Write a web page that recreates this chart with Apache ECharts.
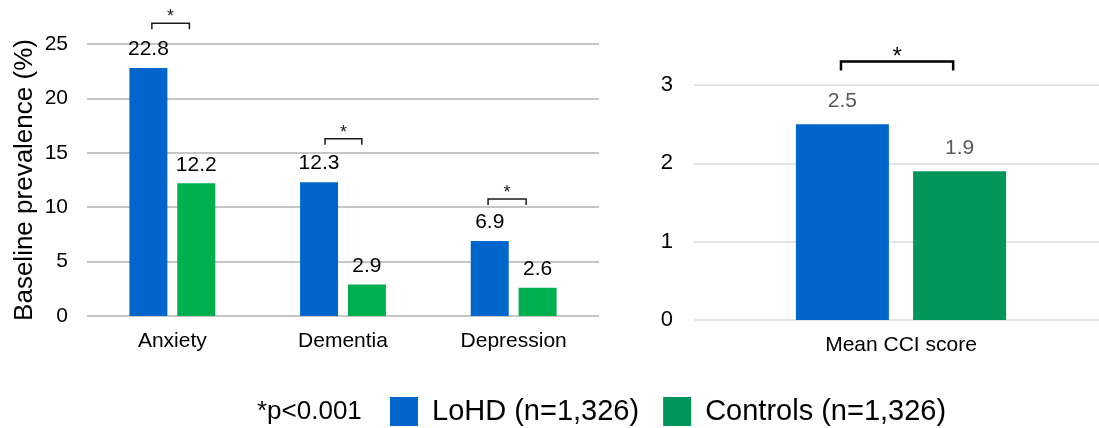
<!DOCTYPE html>
<html>
<head>
<meta charset="utf-8">
<script src="https://cdn.jsdelivr.net/npm/echarts@6/dist/echarts.min.js"></script>
<style>
html,body{margin:0;padding:0;background:#fff;overflow:hidden;width:1099px;height:428px;}
#chart{width:1108px;height:428px;}
</style>
</head>
<body>
<div id="chart"></div>
<script>
// ---- data ----
const categories = ['Anxiety', 'Dementia', 'Depression'];
const lohd = [22.8, 12.3, 6.9];
const controls = [12.2, 2.9, 2.6];
const leftTicks = [0, 5, 10, 15, 20, 25];

const cciCategories = ['Mean CCI score'];
const cciLohd = [2.5];
const cciControls = [1.9];
const rightTicks = [0, 1, 2, 3];

// significance brackets: level (data units) and span (fraction of category band)
const sigLevelLeft = [26.9, 16.3, 10.75];
const sigSpanLeft = [[-0.12, 0.10], [-0.105, 0.11], [-0.15, 0.073]];
const sigLevelRight = [3.3];
const sigSpanRight = [[-0.145, 0.126]];

const seriesNames = ['LoHD (n=1,326)', 'Controls (n=1,326)'];
const noteText = '*p<0.001';

const FONT = '"Liberation Sans", Arial, sans-serif';
const BLUE = '#0066CC';
const GREEN_L = '#00B050';
const GREEN_R = '#00965A';

function bracket(spans, leg, lw, starSize, starDy, color) {
  return function (params, api) {
    const i = api.value(0), v = api.value(1);
    const p = api.coord([i, v]);
    const bw = api.size([1, 0])[0];
    const s = spans[params.dataIndex];
    const x1 = p[0] + s[0] * bw, x2 = p[0] + s[1] * bw;
    return {
      type: 'group',
      children: [
        { type: 'polyline',
          shape: { points: [[x1, p[1] + leg], [x1, p[1]], [x2, p[1]], [x2, p[1] + leg]] },
          style: { stroke: color, lineWidth: lw, fill: null } },
        { type: 'text', x: (x1 + x2) / 2, y: p[1] + starDy,
          style: { text: '*', fontSize: starSize, fontFamily: FONT, fill: color,
                   align: 'center', verticalAlign: 'middle' } }
      ]
    };
  };
}

const chart = echarts.init(document.getElementById('chart'));
const option = {
  animation: false,
  textStyle: { fontFamily: FONT },
  grid: [
    { left: 87, top: 44, width: 512, height: 272 },
    { left: 694, top: 85, width: 414, height: 235 }
  ],
  xAxis: [
    { gridIndex: 0, type: 'category', data: categories,
      axisLine: { show: false }, axisTick: { show: false },
      axisLabel: { fontSize: 21, color: '#000', margin: 15, fontFamily: FONT } },
    { gridIndex: 1, type: 'category', data: cciCategories,
      axisLine: { show: false }, axisTick: { show: false },
      axisLabel: { fontSize: 21, color: '#000', margin: 15, fontFamily: FONT } }
  ],
  yAxis: [
    { gridIndex: 0, type: 'value', min: leftTicks[0], max: leftTicks[leftTicks.length - 1],
      interval: leftTicks[1] - leftTicks[0],
      name: 'Baseline prevalence (%)', nameLocation: 'middle', nameRotate: 90, nameGap: 49,
      nameTextStyle: { fontSize: 26, color: '#000', fontFamily: FONT },
      axisLine: { show: false }, axisTick: { show: false },
      axisLabel: { fontSize: 21, color: '#000', margin: 19, fontFamily: FONT },
      splitLine: { lineStyle: { color: '#C6C6C6', width: 2 } } },
    { gridIndex: 1, type: 'value', min: rightTicks[0], max: rightTicks[rightTicks.length - 1],
      interval: rightTicks[1] - rightTicks[0],
      axisLine: { show: false }, axisTick: { show: false },
      axisLabel: { fontSize: 22, color: '#000', margin: 21, fontFamily: FONT },
      splitLine: { lineStyle: { color: '#E4E4E4', width: 2 } } }
  ],
  legend: {
    data: [
      { name: seriesNames[0], itemStyle: { color: BLUE } },
      { name: seriesNames[1], itemStyle: { color: GREEN_R } }
    ],
    icon: 'rect', left: 385, top: 392, itemWidth: 28, itemHeight: 29, itemGap: 24,
    selectedMode: false,
    textStyle: { fontSize: 29, color: '#000', fontFamily: FONT, padding: [0, 0, 0, 9] }
  },
  graphic: [
    { type: 'text', left: 257, top: 399,
      style: { text: noteText, fontSize: 26, fill: '#000', fontFamily: FONT } }
  ],
  series: [
    { name: seriesNames[0], type: 'bar', xAxisIndex: 0, yAxisIndex: 0, data: lohd,
      barWidth: 38, barGap: '26%', itemStyle: { color: BLUE },
      label: { show: true, position: 'top', distance: 8, fontSize: 21, color: '#000', fontFamily: FONT } },
    { name: seriesNames[1], type: 'bar', xAxisIndex: 0, yAxisIndex: 0, data: controls,
      barWidth: 38, barGap: '26%', itemStyle: { color: GREEN_L },
      label: { show: true, position: 'top', distance: 8, fontSize: 21, color: '#000', fontFamily: FONT } },
    { name: seriesNames[0], type: 'bar', xAxisIndex: 1, yAxisIndex: 1, data: cciLohd,
      barWidth: 93, barGap: '26%', itemStyle: { color: BLUE },
      label: { show: true, position: 'top', distance: 12, fontSize: 21, color: '#595959', fontFamily: FONT } },
    { name: seriesNames[1], type: 'bar', xAxisIndex: 1, yAxisIndex: 1, data: cciControls,
      barWidth: 93, barGap: '26%', itemStyle: { color: GREEN_R },
      label: { show: true, position: 'top', distance: 12, fontSize: 21, color: '#595959', fontFamily: FONT } },
    { type: 'custom', xAxisIndex: 0, yAxisIndex: 0, clip: false, silent: true, z: 10,
      data: sigLevelLeft.map((v, i) => [i, v]),
      renderItem: bracket(sigSpanLeft, 6, 1.5, 18, -6, '#1a1a1a') },
    { type: 'custom', xAxisIndex: 1, yAxisIndex: 1, clip: false, silent: true, z: 10,
      data: sigLevelRight.map((v, i) => [i, v]),
      renderItem: bracket(sigSpanRight, 9, 2.5, 24, -4, '#000') }
  ]
};
chart.setOption(option);
</script>
</body>
</html>
